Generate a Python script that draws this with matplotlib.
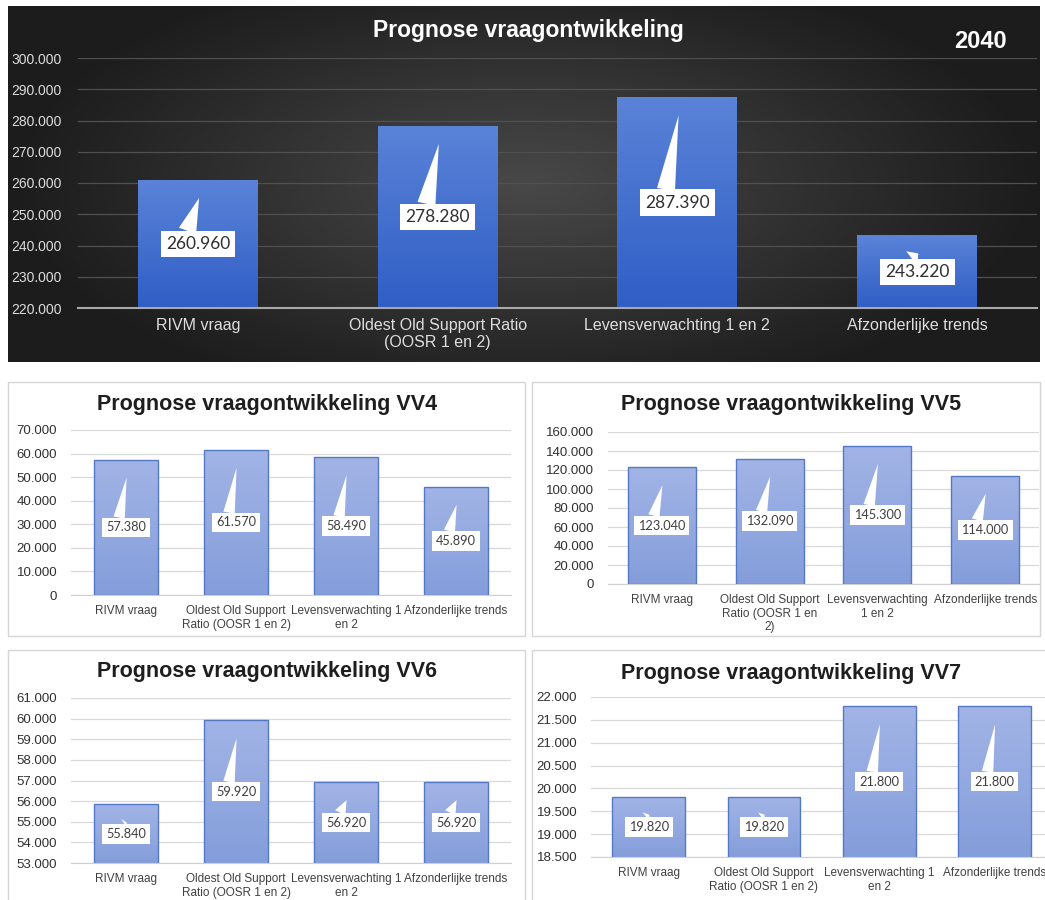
import numpy as np
import matplotlib
matplotlib.use("Agg")
import matplotlib.pyplot as plt
from matplotlib.patches import Rectangle
from matplotlib.colors import LinearSegmentedColormap
from matplotlib.transforms import offset_copy

plt.rcParams['font.family'] = ['Liberation Sans', 'DejaVu Sans']

# data
cats_top = ["RIVM vraag", "Oldest Old Support Ratio\n(OOSR 1 en 2)",
            "Levensverwachting 1 en 2", "Afzonderlijke trends"]
cats_small = ["RIVM vraag", "Oldest Old Support\nRatio (OOSR 1 en 2)",
              "Levensverwachting 1\nen 2", "Afzonderlijke trends"]
cats_vv5 = ["RIVM vraag", "Oldest Old Support\nRatio (OOSR 1 en\n2)",
            "Levensverwachting\n1 en 2", "Afzonderlijke trends"]

totaal_2040 = [260960, 278280, 287390, 243220]
vv4 = [57380, 61570, 58490, 45890]
vv5 = [123040, 132090, 145300, 114000]
vv6 = [55840, 59920, 56920, 56920]
vv7 = [19820, 19820, 21800, 21800]

W, H = 1045, 900
fig = plt.figure(figsize=(W / 100, H / 100), dpi=100)
fig.patch.set_facecolor('white')


def add_ax(x0, y0, x1, y1):
    return fig.add_axes([x0 / W, 1 - y1 / H, (x1 - x0) / W, (y1 - y0) / H])


def fmt(v):
    return f"{v:,.0f}".replace(",", ".")


def grad_bars(ax, vals, width, ymin, c_top, c_bot, edge):
    cmap = LinearSegmentedColormap.from_list('g', [c_bot, c_top])
    grad = np.linspace(0, 1, 100).reshape(-1, 1)
    x = np.arange(len(vals))
    bars = ax.bar(x, vals, width, color='none', edgecolor=edge,
                  linewidth=1 if edge != 'none' else 0, zorder=3)
    for b, v in zip(bars, vals):
        x0 = b.get_x()
        im = ax.imshow(grad, cmap=cmap, origin='lower', aspect='auto',
                       extent=[x0, x0 + width, ymin, v], zorder=2)
        im.set_clip_path(b)
    return bars


def callouts(ax, vals, ymin, size, tw, color):
    # speech-bubble style data labels (Excel callouts)
    tr = offset_copy(ax.transData, fig=fig, y=-13, units='points')
    for i, v in enumerate(vals):
        ax.annotate(fmt(v), xy=(i + 0.005, v), xycoords=tr,
                    xytext=(i, (ymin + v) / 2), textcoords='data',
                    ha='center', va='center', fontsize=size, color=color,
                    family=['Lato', 'DejaVu Sans'], zorder=5,
                    bbox=dict(boxstyle='square,pad=0.3', fc='white', ec='none'),
                    arrowprops=dict(arrowstyle=f'wedge,tail_width={tw}',
                                    fc='white', ec='none', relpos=(0.31, 1.0),
                                    shrinkA=0, shrinkB=0))


# ---------- top panel (dark) ----------
bg = add_ax(8, 6, 1040, 362)
gx, gy = np.meshgrid(np.linspace(-1, 1, 300), np.linspace(-1, 1, 120))
r = np.sqrt((gx / 1.0) ** 2 + (gy / 1.3) ** 2)
shade = np.clip(1 - r, 0, 1)
dark = LinearSegmentedColormap.from_list('d', ['#1c1c1c', '#484848'])
bg.imshow(shade, cmap=dark, aspect='auto', extent=[0, 1, 0, 1])
bg.axis('off')

ax = add_ax(78, 58, 1037, 308)
ax.set_facecolor('none')
ymin = 220000
grad_bars(ax, totaal_2040, 0.5, ymin, '#5a83d8', '#2f5ec5', 'none')
ax.set_xlim(-0.5, 3.5)
ax.set_ylim(ymin, 300000)
ax.set_yticks(np.arange(220000, 300001, 10000))
ax.set_yticklabels([fmt(t) for t in ax.get_yticks()])
ax.set_xticks(range(4))
ax.set_xticklabels(cats_top, fontsize=11.5, color='#dedede')
ax.tick_params(axis='y', length=0, pad=12, labelsize=10, labelcolor='#dcdcdc')
ax.tick_params(axis='x', length=0, pad=7)
ax.yaxis.grid(True, color='#505050', lw=0.9)
ax.set_axisbelow(True)
for s in ['top', 'right', 'left']:
    ax.spines[s].set_visible(False)
ax.spines['bottom'].set_color('#a8a8a8')
ax.spines['bottom'].set_linewidth(1.5)
ax.spines['bottom'].set_zorder(4)
callouts(ax, totaal_2040, ymin, 12.5, 1.05, '#303030')

fig.text(528 / W, 1 - 31 / H, "Prognose vraagontwikkeling", color='white',
         fontsize=16.5, fontweight='bold', ha='center', va='center')
fig.text(980 / W, 1 - 42 / H, "2040", color='white', fontsize=17,
         fontweight='bold', ha='center', va='center')


# ---------- small panels ----------
def small_panel(box, plot, title_xy, title, vals, cats, ylim, step, width,
                xmax=None):
    fig.add_artist(Rectangle((box[0] / W, 1 - box[3] / H),
                             (box[2] - box[0]) / W, (box[3] - box[1]) / H,
                             transform=fig.transFigure, fc='white',
                             ec='#d6d6d6', lw=1, zorder=-10))
    a = add_ax(*plot)
    a.set_facecolor('none')
    grad_bars(a, vals, width, ylim[0], '#a2b4e6', '#849edb', '#5578c6')
    a.set_xlim(-0.5, 3.5 if xmax is None else xmax)
    a.set_ylim(*ylim)
    ticks = np.arange(ylim[0], ylim[1] + 1, step)
    a.set_yticks(ticks)
    a.set_yticklabels([fmt(t) for t in ticks])
    a.set_xticks(range(4))
    a.set_xticklabels(cats, fontsize=8.5, color='#404040')
    a.tick_params(axis='y', length=0, pad=10, labelsize=9.5, labelcolor='#303030')
    a.tick_params(axis='x', length=0, pad=7)
    a.yaxis.grid(True, color='#d9d9d9', lw=0.9)
    a.set_axisbelow(True)
    for s in ['top', 'right', 'left']:
        a.spines[s].set_visible(False)
    a.spines['bottom'].set_color('#d0d0d0')
    callouts(a, vals, ylim[0], 9.2, 0.9, '#404040')
    fig.text(title_xy[0] / W, 1 - title_xy[1] / H, title, fontsize=15.5,
             fontweight='bold', color='#1e1e1e', ha='center', va='center')


small_panel((8, 382, 525, 636), (71, 430, 511, 595), (267, 405),
            "Prognose vraagontwikkeling VV4", vv4, cats_small,
            (0, 70000), 10000, 0.58)
small_panel((532, 382, 1040, 636), (608, 432, 1039, 584), (791, 405),
            "Prognose vraagontwikkeling VV5", vv5, cats_vv5,
            (0, 160000), 20000, 0.63)
small_panel((8, 650, 525, 905), (71, 698, 511, 863), (267, 672),
            "Prognose vraagontwikkeling VV6", vv6, cats_small,
            (53000, 61000), 1000, 0.59)
small_panel((532, 650, 1050, 905), (591, 697, 1045, 857), (791, 673),
            "Prognose vraagontwikkeling VV7", vv7, cats_small,
            (18500, 22000), 500, 0.63, xmax=-0.5 + 454 / 115.3)

fig.savefig("out.png", dpi=100)
